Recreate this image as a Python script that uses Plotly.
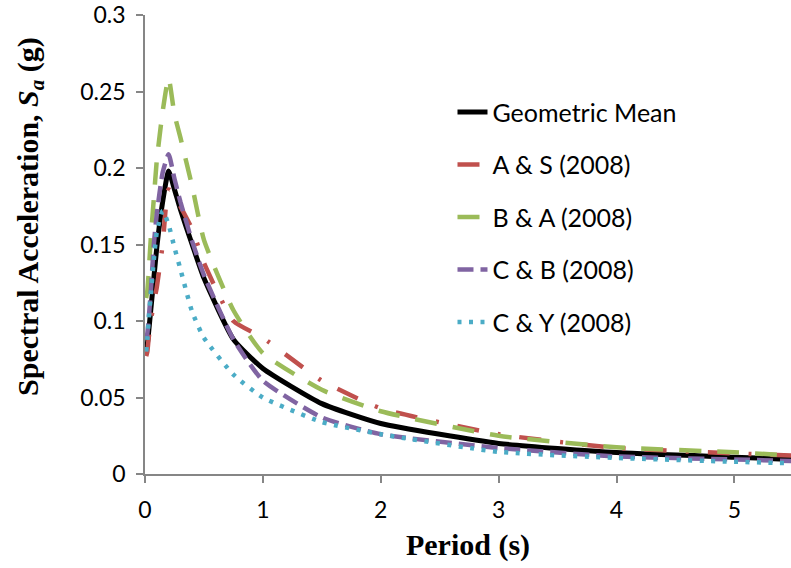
import plotly.graph_objects as go

periods = [0.01, 0.02, 0.03, 0.05, 0.075, 0.1, 0.15, 0.2, 0.25, 0.3, 0.4, 0.5,
           0.75, 1.0, 1.5, 2.0, 3.0, 4.0, 5.0, 5.5]

geo_mean = [0.082, 0.085, 0.092, 0.108, 0.128, 0.148, 0.178, 0.198, 0.186, 0.173, 0.150, 0.128,
            0.088, 0.069, 0.046, 0.033, 0.020, 0.014, 0.011, 0.0095]
as_2008 = [0.077, 0.080, 0.088, 0.100, 0.112, 0.122, 0.150, 0.186, 0.183, 0.175, 0.160, 0.138,
           0.100, 0.089, 0.061, 0.043, 0.026, 0.017, 0.0135, 0.012]
ba_2008 = [0.115, 0.120, 0.130, 0.155, 0.180, 0.205, 0.237, 0.259, 0.235, 0.220, 0.188, 0.153,
           0.107, 0.079, 0.055, 0.041, 0.025, 0.0175, 0.0142, 0.012]
cb_2008 = [0.088, 0.092, 0.100, 0.120, 0.150, 0.170, 0.197, 0.209, 0.193, 0.178, 0.152, 0.130,
           0.088, 0.061, 0.037, 0.026, 0.017, 0.0115, 0.0095, 0.0085]
cy_2008 = [0.080, 0.088, 0.100, 0.118, 0.140, 0.158, 0.172, 0.163, 0.148, 0.134, 0.106, 0.089,
           0.065, 0.050, 0.034, 0.026, 0.0145, 0.0105, 0.008, 0.007]

series_names = ["Geometric Mean", "A & S (2008)", "B & A (2008)", "C & B (2008)", "C & Y (2008)"]
series_values = [geo_mean, as_2008, ba_2008, cb_2008, cy_2008]
colors = ["#000000", "#C0504D", "#9BBB59", "#8064A2", "#4BACC6"]
widths = [5, 4.5, 4.5, 4.5, 4.5]
dashes = ["solid", "22px,19px,3px,19px", "22px,16px", "16px,7px", "4px,7.5px"]

y_ticks = [0, 0.05, 0.1, 0.15, 0.2, 0.25, 0.3]
y_ticktext = ["0", "0.05", "0.1", "0.15", "0.2", "0.25", "0.3"]
x_ticks = [0, 1, 2, 3, 4, 5]

fig = go.Figure()
for i, (name, vals) in enumerate(zip(series_names, series_values)):
    fig.add_trace(go.Scatter(
        x=periods, y=vals, mode="lines", name=name,
        legendgroup=f"g{i}",
        line=dict(color=colors[i], width=widths[i], dash=dashes[i], shape="spline", smoothing=0.5),
    ))

tick_font = dict(family="Lato", size=23, color="#000000")
title_font = dict(family="Liberation Serif", size=30, color="#000000")
fig.update_layout(
    width=791, height=568,
    margin=dict(l=145, r=0, t=15, b=94),
    paper_bgcolor="white", plot_bgcolor="white",
    showlegend=True,
    legend=dict(
        x=0.476, y=0.838, xanchor="left", yanchor="top",
        font=dict(family="Lato", size=25, color="#000000"),
        bgcolor="rgba(0,0,0,0)", tracegroupgap=17,
    ),
    xaxis=dict(
        range=[0, 5.48], tickvals=x_ticks, ticks="outside", ticklen=7, tickwidth=1.5,
        tickcolor="#868686", showline=True, linecolor="#868686", linewidth=1.5,
        showgrid=False, zeroline=False, tickfont=tick_font, ticklabelstandoff=8,
        title=dict(text="<b>Period (s)</b>", font=title_font, standoff=12),
    ),
    yaxis=dict(
        range=[0, 0.3], tickvals=y_ticks, ticktext=y_ticktext, ticks="outside", ticklen=7,
        tickwidth=1.5, tickcolor="#868686", showline=True, linecolor="#868686", linewidth=1.5,
        showgrid=False, zeroline=False, tickfont=tick_font, ticklabelstandoff=6,
    ),
    annotations=[dict(
        text="<b>Spectral Acceleration, <i>S</i><sub><i>a</i></sub> (g)</b>",
        xref="paper", yref="paper", x=-0.178, y=0.56, xanchor="center", yanchor="middle",
        textangle=-90, showarrow=False, font=title_font,
    )],
)

fig.write_html("out.html")
